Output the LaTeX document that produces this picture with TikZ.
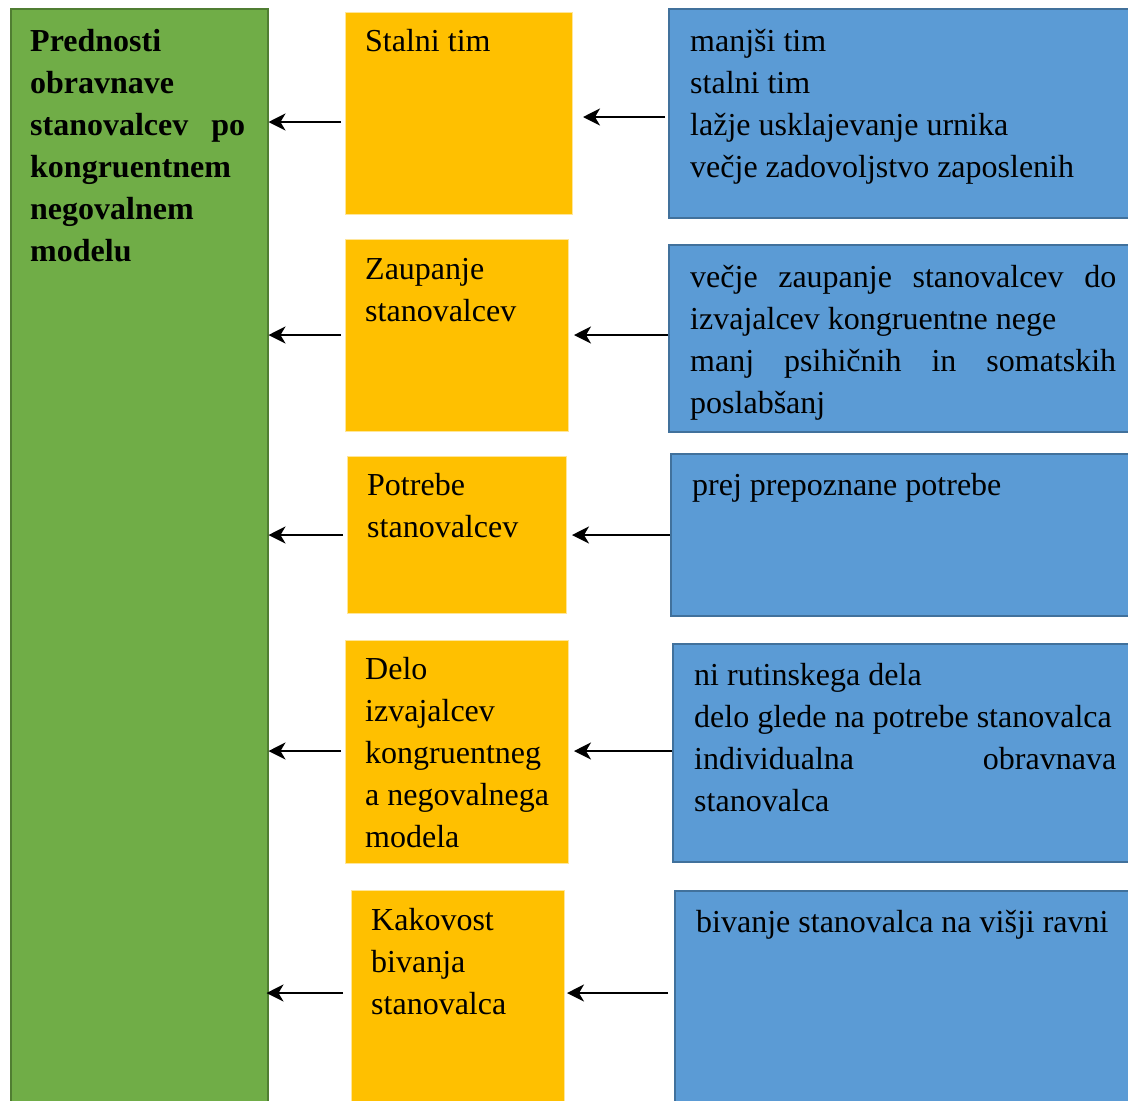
\documentclass[tikz,border=0pt]{standalone}
\usepackage{fontspec}
\setmainfont{Liberation Serif}
\usetikzlibrary{arrows.meta}
\definecolor{zelena}{HTML}{70AD47}
\definecolor{zelenarob}{HTML}{507E32}
\definecolor{oranzna}{HTML}{FFC000}
\definecolor{oranznarob}{HTML}{FFE699}
\definecolor{modra}{HTML}{5B9BD5}
\definecolor{modrarob}{HTML}{41719C}
\begin{document}
\begin{tikzpicture}[x=1pt,y=-1pt,
    okvir/.style={draw, line width=1.5pt, anchor=north west, inner sep=0pt},
    zeleni/.style={okvir, draw=zelenarob, fill=zelena},
    oranzni/.style={okvir, draw=oranznarob, line width=1pt, fill=oranzna},
    modri/.style={okvir, draw=modrarob, fill=modra},
    napis/.style={anchor=north west, inner sep=0pt, align=left, font=\fontsize{32}{42}\selectfont},
    puscica/.style={-{Stealth[length=17pt,width=17pt,inset=5pt]}, line width=2pt}]
			\useasboundingbox (0,0) rectangle (1128,1101);

			% Green column
			\node[zeleni, minimum width=257pt, minimum height=1110pt] (prednosti) at (10,8) {};
			\node[napis, font=\fontsize{32}{42}\selectfont\bfseries] (prednostinapis) at (30,22)
				{\strut Prednosti\\ obravnave\\ \makebox[215pt][s]{stanovalcev po}\\ kongruentnem\\ negovalnem\\ modelu};

			% Orange boxes
			\node[oranzni, minimum width=227pt, minimum height=202pt] (tim) at (345,12) {};
			\node[oranzni, minimum width=223pt, minimum height=192pt] (zaupanje) at (345,239) {};
			\node[oranzni, minimum width=219pt, minimum height=157pt] (potrebe) at (347,456) {};
			\node[oranzni, minimum width=223pt, minimum height=223pt] (delo) at (345,640) {};
			\node[oranzni, minimum width=213pt, minimum height=220pt] (kakovost) at (351,890) {};
			\node[napis] (timnapis) at (365,22) {\strut Stalni tim};
			\node[napis] (zaupanjenapis) at (365,250) {\strut Zaupanje\\ stanovalcev};
			\node[napis] (potrebenapis) at (367,466) {\strut Potrebe\\ stanovalcev};
			\node[napis] (delonapis) at (365,650) {\strut Delo\\ izvajalcev\\ kongruentneg\\ a negovalnega\\ modela};
			\node[napis] (kakovostnapis) at (371,901) {\strut Kakovost\\ bivanja\\ stanovalca};

			% Blue boxes
			\node[modri, minimum width=470pt, minimum height=209pt] (opis1) at (668,8) {};
			\node[modri, minimum width=470pt, minimum height=187pt] (opis2) at (668,244) {};
			\node[modri, minimum width=468pt, minimum height=162pt] (opis3) at (670,453) {};
			\node[modri, minimum width=466pt, minimum height=218pt] (opis4) at (672,643) {};
			\node[modri, minimum width=464pt, minimum height=220pt] (opis5) at (674,890) {};
			\node[napis] (opis1napis) at (690,22) {\strut manjši tim\\ stalni tim\\ lažje usklajevanje urnika\\ večje zadovoljstvo zaposlenih};
			\node[napis] (opis2napis) at (690,258) {\strut \makebox[426pt][s]{večje zaupanje stanovalcev do}\\ izvajalcev kongruentne nege\\ \makebox[426pt][s]{manj psihičnih in somatskih}\\ poslabšanj};
			\node[napis] (opis3napis) at (692,466) {\strut prej prepoznane potrebe};
			\node[napis] (opis4napis) at (694,656) {\strut ni rutinskega dela\\ delo glede na potrebe stanovalca\\ \makebox[422pt][s]{individualna obravnava}\\ stanovalca};
			\node[napis] (opis5napis) at (696,903) {\strut bivanje stanovalca na višji ravni};

			% Arrows blue -> orange
			\draw[puscica] ([xshift=-3pt]opis1.west |- 0,117) -- ([xshift=10pt]tim.east |- 0,117);
			\draw[puscica] (opis2.west |- 0,335) -- ([xshift=5pt]zaupanje.east |- 0,335);
			\draw[puscica] (opis3.west |- 0,535) -- ([xshift=5pt]potrebe.east |- 0,535);
			\draw[puscica] (opis4.west |- 0,751) -- ([xshift=5pt]delo.east |- 0,751);
			\draw[puscica] ([xshift=-6pt]opis5.west |- 0,993) -- ([xshift=2pt]kakovost.east |- 0,993);

			% Arrows orange -> green
			\draw[puscica] ([xshift=-4pt]tim.west |- 0,122) -- (prednosti.east |- 0,122);
			\draw[puscica] ([xshift=-4pt]zaupanje.west |- 0,335) -- (prednosti.east |- 0,335);
			\draw[puscica] ([xshift=-4pt]potrebe.west |- 0,535) -- (prednosti.east |- 0,535);
			\draw[puscica] ([xshift=-4pt]delo.west |- 0,751) -- (prednosti.east |- 0,751);
			\draw[puscica] ([xshift=-8pt]kakovost.west |- 0,993) -- ([xshift=-2pt]prednosti.east |- 0,993);
		\end{tikzpicture}
\end{document}
